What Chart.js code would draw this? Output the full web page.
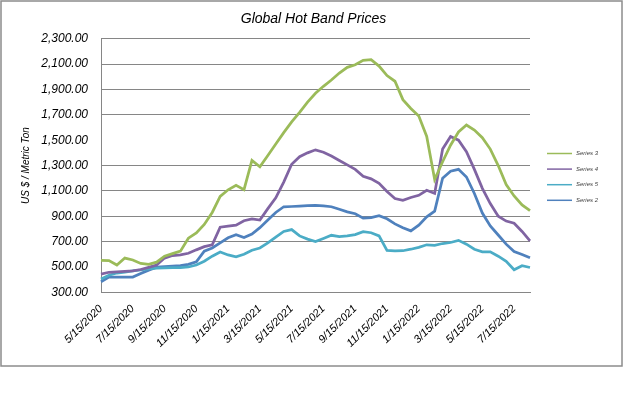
<!DOCTYPE html>
<html>
<head>
<meta charset="utf-8">
<script src="https://cdn.jsdelivr.net/npm/chart.js@4.4.0/dist/chart.umd.min.js"></script>
<style>
  html, body { margin: 0; padding: 0; background: #fff; }
  #wrap { position: absolute; left: 0; top: 0; width: 627px; height: 412px; }
</style>
</head>
<body>
<div id="wrap"><canvas id="chart"></canvas></div>
<script>
// Semi-monthly dates, labels shown every 2 months
const dates = [
  '5/15/2020', '6/1/2020', '6/15/2020', '7/1/2020', '7/15/2020', '8/1/2020', '8/15/2020',
  '9/1/2020', '9/15/2020', '10/1/2020', '10/15/2020', '11/1/2020', '11/15/2020', '12/1/2020',
  '12/15/2020', '1/1/2021', '1/15/2021', '2/1/2021', '2/15/2021', '3/1/2021', '3/15/2021',
  '4/1/2021', '4/15/2021', '5/1/2021', '5/15/2021', '6/1/2021', '6/15/2021', '7/1/2021',
  '7/15/2021', '8/1/2021', '8/15/2021', '9/1/2021', '9/15/2021', '10/1/2021', '10/15/2021',
  '11/1/2021', '11/15/2021', '12/1/2021', '12/15/2021', '1/1/2022', '1/15/2022', '2/1/2022',
  '2/15/2022', '3/1/2022', '3/15/2022', '4/1/2022', '4/15/2022', '5/1/2022', '5/15/2022',
  '6/1/2022', '6/15/2022', '7/1/2022', '7/15/2022', '8/1/2022', '8/15/2022'
];

const seriesNames = ['Series 3', 'Series 4', 'Series 5', 'Series 2'];

const greenPrices = [552, 550, 515, 570, 555, 528, 520, 538, 585, 605, 625, 727, 768, 835, 930,
  1056, 1109, 1144, 1110, 1340, 1290, 1380, 1470, 1560, 1645, 1720, 1800, 1870, 1925, 1975,
  2030, 2075, 2095, 2130, 2135, 2085, 2010, 1965, 1820, 1750, 1690, 1530, 1190, 1330, 1460,
  1565, 1620, 1580, 1520, 1430, 1300, 1150, 1060, 990, 945];

const purplePrices = [443, 458, 462, 466, 470, 480, 497, 515, 570, 590, 595, 608, 635, 660, 675,
  814, 822, 830, 865, 880, 870, 960, 1045, 1170, 1310, 1370, 1400, 1424, 1405, 1375,
  1340, 1305, 1270, 1215, 1195, 1160, 1096, 1040, 1025, 1048, 1065, 1105, 1080, 1430, 1530,
  1500, 1410, 1270, 1120, 1000, 900, 862, 845, 780, 705];

const cyanPrices = [405, 435, 452, 460, 469, 476, 484, 491, 492, 494, 495, 500, 515, 545, 585,
  618, 595, 580, 600, 632, 650, 690, 735, 780, 795, 745, 720, 701, 725, 750,
  740, 745, 755, 778, 770, 745, 630, 626, 628, 640, 655, 675, 670, 685, 693,
  710, 680, 640, 620, 620, 585, 545, 478, 510, 496];

const bluePrices = [383, 420, 420, 420, 420, 448, 475, 498, 502, 506, 510, 520, 540, 625, 650,
  690, 730, 755, 733, 760, 810, 870, 930, 975, 977, 980, 983, 985, 982, 975,
  955, 935, 920, 885, 890, 905, 880, 840, 810, 785, 830, 895, 940, 1200, 1255,
  1270, 1210, 1080, 925, 823, 752, 680, 622, 598, 572];

const colors = ['#9BBB59', '#8064A2', '#4BACC6', '#4F81BD'];
const yTicks = { min: 300, max: 2300, step: 200 };
const hiddenGrid = [1500, 500]; // these gridlines are not drawn in the original

Chart.defaults.font.family = "'Liberation Sans', Arial, sans-serif";
Chart.defaults.color = '#000';

// Outer frame + small legend on the right
const framePlugin = {
  id: 'frame',
  beforeDraw(chart) {
    const ctx = chart.ctx;
    ctx.save();
    ctx.fillStyle = '#fff';
    ctx.fillRect(0, 0, chart.width, chart.height);
    ctx.strokeStyle = '#8c8c8c';
    ctx.lineWidth = 1.5;
    ctx.strokeRect(1, 1, 621, 365);
    ctx.restore();
  },
  afterDraw(chart) {
    const ctx = chart.ctx;
    ctx.save();
    chart.data.datasets.forEach(function(ds, i) {
      const y = 153.5 + i * 15.6;
      ctx.strokeStyle = ds.borderColor;
      ctx.lineWidth = 1.5;
      ctx.beginPath();
      ctx.moveTo(547, y);
      ctx.lineTo(572, y);
      ctx.stroke();
      ctx.fillStyle = '#444';
      ctx.font = "italic 6px 'Liberation Sans'";
      ctx.textBaseline = 'middle';
      ctx.fillText(ds.label, 576, y);
    });
    ctx.restore();
  }
};

const seriesData = [greenPrices, purplePrices, cyanPrices, bluePrices];

new Chart(document.getElementById('chart'), {
  type: 'line',
  data: {
    labels: dates,
    datasets: seriesData.map(function(values, i) {
      return {
        label: seriesNames[i],
        data: values,
        borderColor: colors[i],
        backgroundColor: colors[i],
        borderWidth: 2.75,
        pointRadius: 0,
        tension: 0
      };
    })
  },
  options: {
    responsive: true,
    maintainAspectRatio: false,
    animation: false,
    layout: { padding: { left: 16, right: 16, top: 0, bottom: 60 } },
    plugins: {
      legend: { display: false },
      tooltip: { enabled: false },
      title: {
        display: true,
        text: 'Global Hot Band Prices',
        font: { size: 14, style: 'italic', weight: 'normal' },
        color: '#000',
        padding: { top: 11, bottom: 11 }
      }
    },
    scales: {
      x: {
        offset: false,
        grid: { display: false },
        border: { display: true, color: '#868686' },
        ticks: {
          autoSkip: false,
          maxRotation: 45,
          minRotation: 45,
          padding: 2,
          font: { size: 11, style: 'italic' },
          callback: function(val, idx) {
            return idx % 4 === 0 ? this.getLabelForValue(val) : null;
          }
        }
      },
      y: {
        min: yTicks.min,
        max: yTicks.max,
        afterFit: function(scale) { scale.width = 85; },
        border: { display: true, color: '#868686', width: 1 },
        grid: {
          drawTicks: false,
          color: function(ctx) {
            return ctx.tick && hiddenGrid.indexOf(ctx.tick.value) >= 0 ? 'rgba(0,0,0,0)' : '#868686';
          }
        },
        ticks: {
          stepSize: yTicks.step,
          padding: 13,
          font: { size: 12, style: 'italic' },
          callback: function(v) {
            return v.toLocaleString('en-US', { minimumFractionDigits: 2, maximumFractionDigits: 2 });
          }
        },
        title: {
          display: true,
          text: 'US $ / Metric Ton',
          font: { size: 10, style: 'italic' },
          color: '#000',
          padding: { top: 4, bottom: 4 }
        }
      },
      yRight: {
        position: 'right',
        display: true,
        grid: { display: false },
        border: { display: false },
        ticks: { display: false },
        afterFit: function(scale) { scale.width = 81; }
      }
    }
  },
  plugins: [framePlugin]
});
</script>
</body>
</html>
